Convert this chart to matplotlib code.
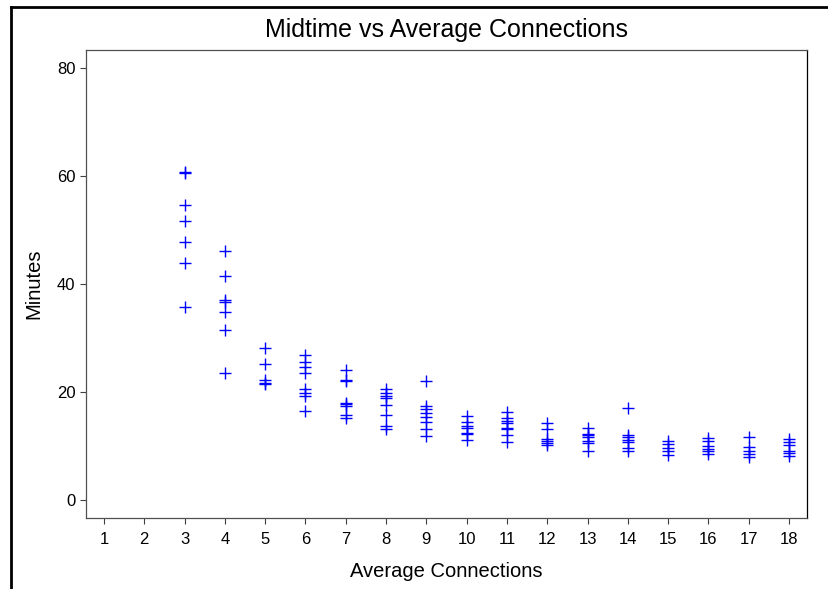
import matplotlib.pyplot as plt
from matplotlib.lines import Line2D

plt.rcParams['font.family'] = ['Liberation Sans', 'DejaVu Sans']

connections = [3, 4, 5, 6, 7, 8, 9, 10, 11, 12, 13, 14, 15, 16, 17, 18]
midtimes = [
    [60.5, 60.8, 54.7, 51.7, 47.7, 43.8, 35.7],
    [46.2, 41.5, 37.0, 36.6, 34.9, 31.5, 23.6],
    [28.2, 25.1, 22.2, 21.7, 21.4],
    [26.9, 25.5, 24.6, 23.5, 20.5, 19.8, 19.2, 16.4],
    [24.0, 22.3, 22.0, 18.0, 17.7, 17.4, 15.8, 15.2],
    [20.5, 19.8, 19.3, 18.8, 17.6, 15.8, 13.7, 13.2],
    [22.0, 17.5, 16.8, 16.2, 15.3, 14.4, 13.1, 11.9],
    [15.6, 14.4, 13.7, 13.4, 12.5, 12.2, 11.2],
    [16.3, 15.2, 14.7, 14.2, 13.4, 13.1, 12.0, 10.8],
    [14.2, 13.1, 11.3, 10.9, 10.6, 10.1],
    [13.4, 12.3, 12.0, 11.7, 10.9, 10.5, 9.0],
    [17.0, 12.1, 11.6, 11.2, 10.7, 9.7, 9.0],
    [11.0, 10.3, 9.7, 9.1, 8.4],
    [11.5, 11.0, 10.0, 9.4, 9.1, 8.6],
    [11.7, 9.8, 9.1, 8.6, 8.0],
    [11.3, 10.7, 10.1, 9.1, 8.7, 8.1],
]
x_ticks = list(range(1, 19))
y_ticks = [0, 20, 40, 60, 80]

xs = []
ys = []
for c, vals in zip(connections, midtimes):
    xs += [c] * len(vals)
    ys += vals

fig = plt.figure(figsize=(8.29, 5.89), dpi=100)
ax = fig.add_axes([86 / 829, 1 - 518 / 589, (807 - 86) / 829, (518 - 50) / 589])

ax.plot(xs, ys, linestyle='none', marker='+', color='#0000FF',
        markersize=8.5, markeredgewidth=1.0)

ax.set_xlim(0.553, 18.447)
ax.set_ylim(-3.33, 83.33)
ax.set_xticks(x_ticks)
ax.set_yticks(y_ticks)
ax.tick_params(axis='both', labelsize=12, length=4, width=0.8, color='#404040')
ax.tick_params(axis='x', pad=6)
for s in ax.spines.values():
    s.set_color('#505050')
    s.set_linewidth(0.9)
ax.spines['right'].set_color('black')

ax.set_title('Midtime vs Average Connections', fontsize=18, pad=9)
ax.set_xlabel('Average Connections', fontsize=14.5, labelpad=11)
ax.set_ylabel('Minutes', fontsize=14.5, labelpad=10)

# outer frame lines (left and top only)
fig.add_artist(Line2D([11 / 829, 11 / 829], [0, 1 - 7 / 589], transform=fig.transFigure,
                      color='black', linewidth=2))
fig.add_artist(Line2D([11 / 829, 1], [1 - 7 / 589, 1 - 7 / 589], transform=fig.transFigure,
                      color='black', linewidth=2))

fig.savefig('out.png', dpi=100)
